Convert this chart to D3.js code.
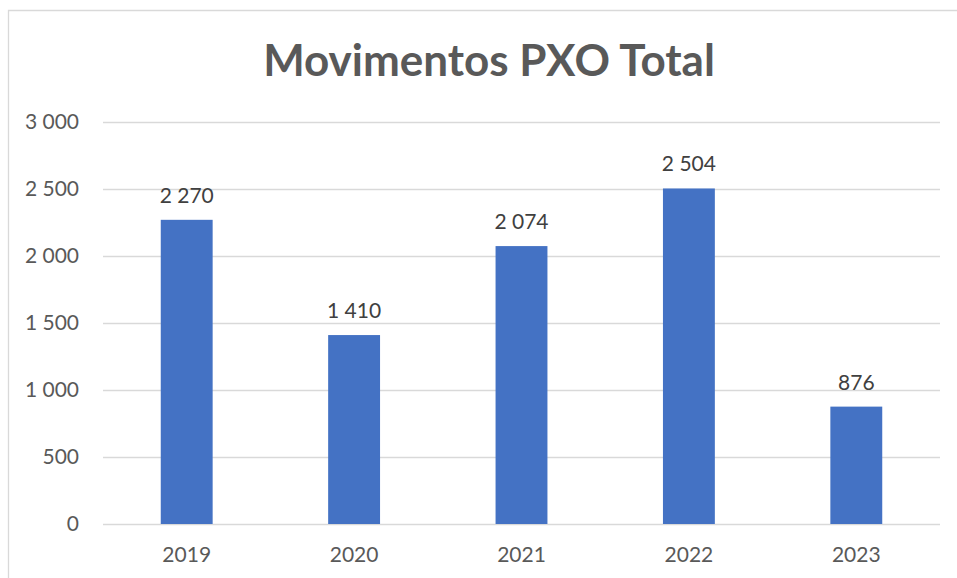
<!DOCTYPE html>
<html>
<head>
<meta charset="utf-8">
<script src="https://cdn.jsdelivr.net/npm/d3@7"></script>
<style>
  body { margin: 0; background: #fff; }
  text { font-family: Lato, "Open Sans", sans-serif; }
</style>
</head>
<body>
<script>
// data
var years = ["2019", "2020", "2021", "2022", "2023"];
var movimentos = [2270, 1410, 2074, 2504, 876];
var yTicks = [0, 500, 1000, 1500, 2000, 2500, 3000];

var width = 957,
    height = 578;

var plotLeft = 103, plotRight = 940, plotTop = 122, plotBottom = 524;

var svg = d3.select("body").append("svg")
    .attr("width", width)
    .attr("height", height);

// chart border (only left/top visible)
svg.append("path")
    .attr("d", "M8.5," + height + "V10.5H" + width)
    .style("fill", "none")
    .style("stroke", "#d9d9d9")
    .style("stroke-width", 1.3);

var fmt = function(d){
    return d3.format(",")(d).replace(/,/g, " ");
};

var x = d3.scaleBand()
    .domain(years)
    .range([plotLeft, plotRight])
    .paddingInner(0.69)
    .paddingOuter(0.345);

var y = d3.scaleLinear()
    .domain([0, 3000])
    .range([plotBottom, plotTop]);

// title
svg.append("text")
    .attr("x", 489)
    .attr("y", 76)
    .attr("text-anchor", "middle")
    .style("font-size", "44px")
    .style("font-weight", "bold")
    .style("fill", "#595959")
    .text("Movimentos PXO Total");

// gridlines + y labels
var yAxis = d3.axisLeft(y)
    .tickValues(yTicks)
    .tickSize(-(plotRight - plotLeft))
    .tickPadding(24)
    .tickFormat(fmt);

var gy = svg.append("g")
    .attr("transform", "translate(" + plotLeft + ",0)")
    .call(yAxis);
gy.select(".domain").remove();
gy.selectAll(".tick line")
    .style("stroke", "#d9d9d9")
    .style("stroke-width", 1.3);
gy.selectAll(".tick text")
    .style("font-size", "21px")
    .style("fill", "#595959");

// x labels
var xAxis = d3.axisBottom(x).tickSize(0).tickPadding(23);
var gx = svg.append("g")
    .attr("transform", "translate(0," + plotBottom + ")")
    .call(xAxis);
gx.select(".domain").remove();
gx.selectAll(".tick text")
    .style("font-size", "21px")
    .style("fill", "#595959");

// bars
svg.selectAll(".bar")
    .data(movimentos)
    .enter()
    .append("rect")
    .attr("class", "bar")
    .attr("x", function(d, i){ return x(years[i]); })
    .attr("y", function(d){ return y(d); })
    .attr("width", x.bandwidth())
    .attr("height", function(d){ return plotBottom - y(d); })
    .style("fill", "#4472c4");

// value labels
svg.selectAll(".lbl")
    .data(movimentos)
    .enter()
    .append("text")
    .attr("class", "lbl")
    .attr("x", function(d, i){ return x(years[i]) + x.bandwidth() / 2; })
    .attr("y", function(d){ return y(d) - 17; })
    .attr("text-anchor", "middle")
    .style("font-size", "21px")
    .style("fill", "#404040")
    .text(fmt);
</script>
</body>
</html>
